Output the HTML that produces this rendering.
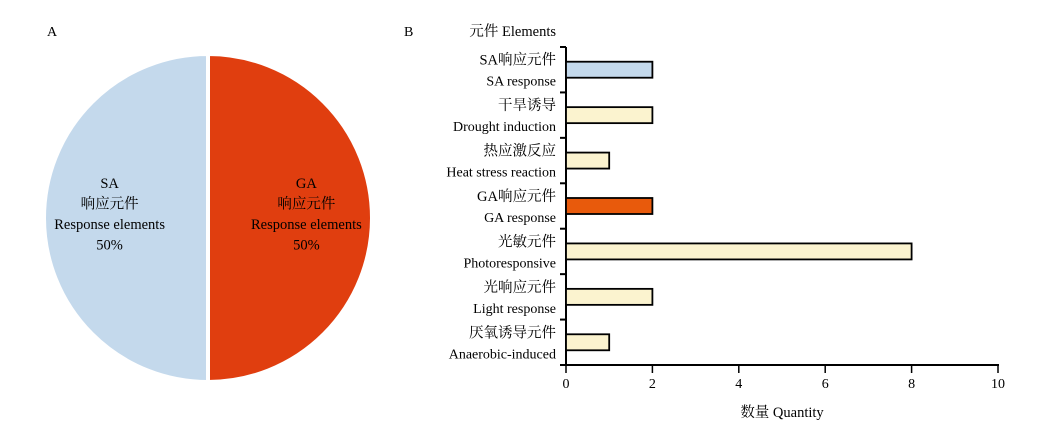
<!DOCTYPE html>
<html><head><meta charset="utf-8"><style>
body{margin:0;background:#fff;}
svg{display:block;font-family:"Liberation Serif","Noto Serif CJK SC",serif;}
</style></head><body>
<svg id="c" width="1051" height="432" xmlns="http://www.w3.org/2000/svg">
<text x="47" y="36" font-size="14">A</text>
<text x="404" y="36" font-size="14">B</text>
<g id="pie"></g>
<g id="bar"></g>
</svg>
<script>
const pieLabels=["GA","SA"];
const pieValues=[50,50];
const pieColors=["#e03e0f","#c4d9ec"];
const categories=[["SA响应元件","SA response"],["干旱诱导","Drought induction"],["热应激反应","Heat stress reaction"],["GA响应元件","GA response"],["光敏元件","Photoresponsive"],["光响应元件","Light response"],["厌氧诱导元件","Anaerobic-induced"]];
const values=[2,2,1,2,8,2,1];
const barColors=["#c4d9ec","#fbf3cf","#fbf3cf","#e85a0c","#fbf3cf","#fbf3cf","#fbf3cf"];
const xTicks=[0,2,4,6,8,10];
const NS="http://www.w3.org/2000/svg";
function mk(t,a,p,txt){const e=document.createElementNS(NS,t);for(const k in a)e.setAttribute(k,a[k]);if(txt!==undefined)e.textContent=txt;p.appendChild(e);return e;}
// pie
const pie=document.getElementById('pie');
const cx=208,cy=218,r=164;
const tot=pieValues.reduce((a,b)=>a+b,0);
let ang=-Math.PI/2;
pieValues.forEach((v,i)=>{
 const a2=ang+v/tot*2*Math.PI;
 const x1=cx+r*Math.cos(ang),y1=cy+r*Math.sin(ang),x2=cx+r*Math.cos(a2),y2=cy+r*Math.sin(a2);
 const large=(a2-ang)>Math.PI?1:0;
 const p=mk('path',{d:`M${cx},${cy}L${x1},${y1}A${r},${r} 0 ${large} 1 ${x2},${y2}Z`,fill:pieColors[i],stroke:'#fff','stroke-width':4},pie);
 
 
 const mid=(ang+a2)/2;
 const lx=cx+r*0.6*Math.cos(mid),ly=cy+r*0.6*Math.sin(mid)-30;
 const lines=[pieLabels[i],"响应元件","Response elements",v+"%"];
 const g=mk('g',{},pie);
 
 
 lines.forEach((s,j)=>mk('text',{x:lx,y:ly+j*20.5,'text-anchor':'middle','font-size':14.5},g,s));
 ang=a2;
});
// bar
const bar=document.getElementById('bar');
const x0=566,ux=43.2,yTop=47,yBot=365,band=(yBot-yTop)/categories.length,bh=16;
const X=v=>x0+v*ux;
mk('text',{x:556,y:36,'text-anchor':'end','font-size':14.5},bar,"元件 Elements");
const ya=mk('line',{x1:x0,y1:yTop,x2:x0,y2:yBot,stroke:'#000','stroke-width':2},bar);

for(let i=0;i<=categories.length;i++){const t=mk('line',{x1:x0-6,y1:yTop+i*band,x2:x0,y2:yTop+i*band,stroke:'#000','stroke-width':2},bar);}
categories.forEach((c,i)=>{
 const yc=yTop+(i+0.5)*band;
 const b=mk('rect',{x:X(0),y:yc-bh/2,width:X(values[i])-X(0),height:bh,fill:barColors[i],stroke:'#000','stroke-width':1.8},bar);
 
 
 const t1=mk('text',{x:556,y:yc-5,'text-anchor':'end','font-size':14.5},bar,c[0]);
 
 const t2=mk('text',{x:556,y:yc+16,'text-anchor':'end','font-size':14},bar,c[1]);
 
});
const xa=mk('line',{x1:x0-6,y1:yBot,x2:X(10)+1,y2:yBot,stroke:'#000','stroke-width':2},bar);

xTicks.forEach(v=>{
 const t=mk('line',{x1:X(v),y1:yBot,x2:X(v),y2:yBot+8,stroke:'#000','stroke-width':1.5},bar);
 
 const l=mk('text',{x:X(v),y:yBot+23,'text-anchor':'middle','font-size':14},bar,v);
 
});
mk('text',{x:782,y:417,'text-anchor':'middle','font-size':14.5},bar,"数量 Quantity");
</script>
</body></html>
